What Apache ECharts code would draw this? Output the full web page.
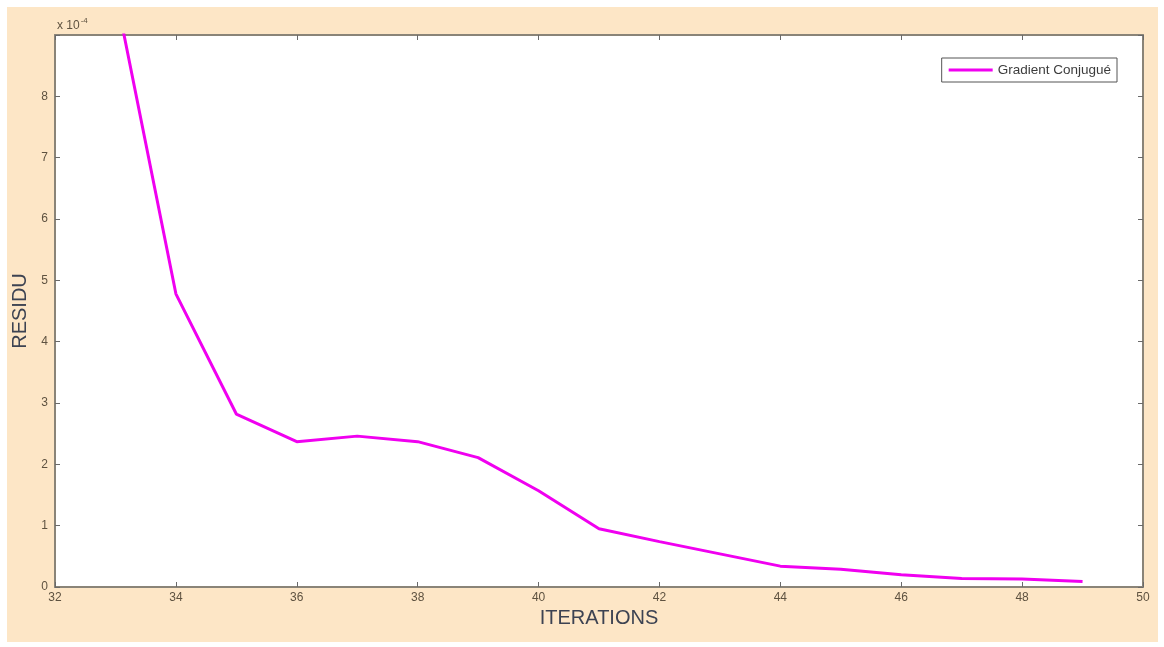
<!DOCTYPE html>
<html>
<head>
<meta charset="utf-8">
<script src="https://cdn.jsdelivr.net/npm/echarts@6/dist/echarts.min.js"></script>
<style>
html,body{margin:0;padding:0;background:#ffffff;}
#chart{width:1164px;height:647px;}
</style>
</head>
<body>
<div id="chart"></div>
<script>
// Data (values in units of 1e-4)
var iterations = [33, 34, 35, 36, 37, 38, 39, 40, 41, 42, 43, 44, 45, 46, 47, 48, 49];
var residu = [9.7, 4.78, 2.82, 2.37, 2.46, 2.37, 2.11, 1.57, 0.95, 0.74, 0.54, 0.34, 0.29, 0.2, 0.14, 0.13, 0.09];
var seriesName = 'Gradient Conjugué';
var xTitle = 'ITERATIONS';
var yTitle = 'RESIDU';
var scaleLabel = 'x 10';
var scaleExp = '-4';

var points = iterations.map(function (x, i) { return [x, residu[i]]; });

var axisColor = '#8a8478';
var labelColor = '#5e5240';
var labelFont = 'Liberation Sans';

var chart = echarts.init(document.getElementById('chart'), null, {renderer: 'canvas'});
chart.setOption({
  animation: false,
  backgroundColor: '#ffffff',
  graphic: [
    {type: 'rect', z: -10, shape: {x: 7, y: 7, width: 1151, height: 635}, style: {fill: '#fde6c6'}},
    {type: 'rect', z: -9, shape: {x: 55, y: 35, width: 1088, height: 552}, style: {fill: '#ffffff'}}
  ],
  title: {
    text: scaleLabel + '{sup|' + scaleExp + '}',
    left: 52, top: 12,
    textStyle: {
      fontFamily: labelFont, fontSize: 12, fontWeight: 'normal', color: labelColor,
      rich: {sup: {fontSize: 8, verticalAlign: 'top', padding: [0, 0, 9, 1], color: labelColor, fontFamily: labelFont}}
    }
  },
  legend: {
    data: [{name: seriesName, icon: 'path://M0,0 L44,0 L44,3 L0,3 Z'}],
    right: 47, top: 58,
    itemWidth: 44, itemHeight: 3,
    borderColor: '#555555', borderWidth: 1,
    backgroundColor: '#ffffff',
    padding: [5, 6, 5, 7],
    itemGap: 4,
    textStyle: {fontFamily: labelFont, fontSize: 13.5, color: '#3c3c3c', lineHeight: 12}
  },
  grid: {left: 55, right: 21, top: 35, bottom: 60, containLabel: false},
  xAxis: [{
    type: 'value', min: 32, max: 50, interval: 2,
    name: xTitle, nameLocation: 'middle', nameGap: 20,
    nameTextStyle: {fontFamily: labelFont, fontSize: 20, color: '#3d4352'},
    axisLine: {show: true, onZero: false, lineStyle: {color: axisColor, width: 2}},
    axisTick: {show: true, inside: true, length: 5, lineStyle: {color: '#6a6a6a'}},
    axisLabel: {fontFamily: labelFont, fontSize: 12, color: labelColor, margin: 5,
      formatter: function (v) { return String(v); }},
    splitLine: {show: false}
  }, {
    type: 'value', position: 'top', min: 32, max: 50, interval: 2,
    axisLine: {show: true, onZero: false, lineStyle: {color: axisColor, width: 2}},
    axisTick: {show: true, inside: true, length: 5, lineStyle: {color: '#6a6a6a'}},
    axisLabel: {show: false},
    splitLine: {show: false}
  }],
  yAxis: [{
    type: 'value', min: 0, max: 9, interval: 1,
    name: yTitle, nameLocation: 'middle', nameGap: 21,
    nameTextStyle: {fontFamily: labelFont, fontSize: 20, color: '#3d4352'},
    axisLine: {show: true, onZero: false, lineStyle: {color: axisColor, width: 2}},
    axisTick: {show: true, inside: true, length: 5, lineStyle: {color: '#6a6a6a'}},
    axisLabel: {fontFamily: labelFont, fontSize: 12, color: labelColor, margin: 7,
      formatter: function (v) { return v >= 9 ? '' : String(v); }},
    splitLine: {show: false}
  }, {
    type: 'value', position: 'right', min: 0, max: 9, interval: 1,
    axisLine: {show: true, onZero: false, lineStyle: {color: axisColor, width: 2}},
    axisTick: {show: true, inside: true, length: 5, lineStyle: {color: '#6a6a6a'}},
    axisLabel: {show: false},
    splitLine: {show: false}
  }],
  series: [{
    name: seriesName,
    type: 'line',
    data: points,
    xAxisIndex: 0, yAxisIndex: 0,
    showSymbol: false, symbol: 'none',
    clip: true,
    lineStyle: {color: '#f000f0', width: 3},
    itemStyle: {color: '#f000f0'}
  }]
});
</script>
</body>
</html>
